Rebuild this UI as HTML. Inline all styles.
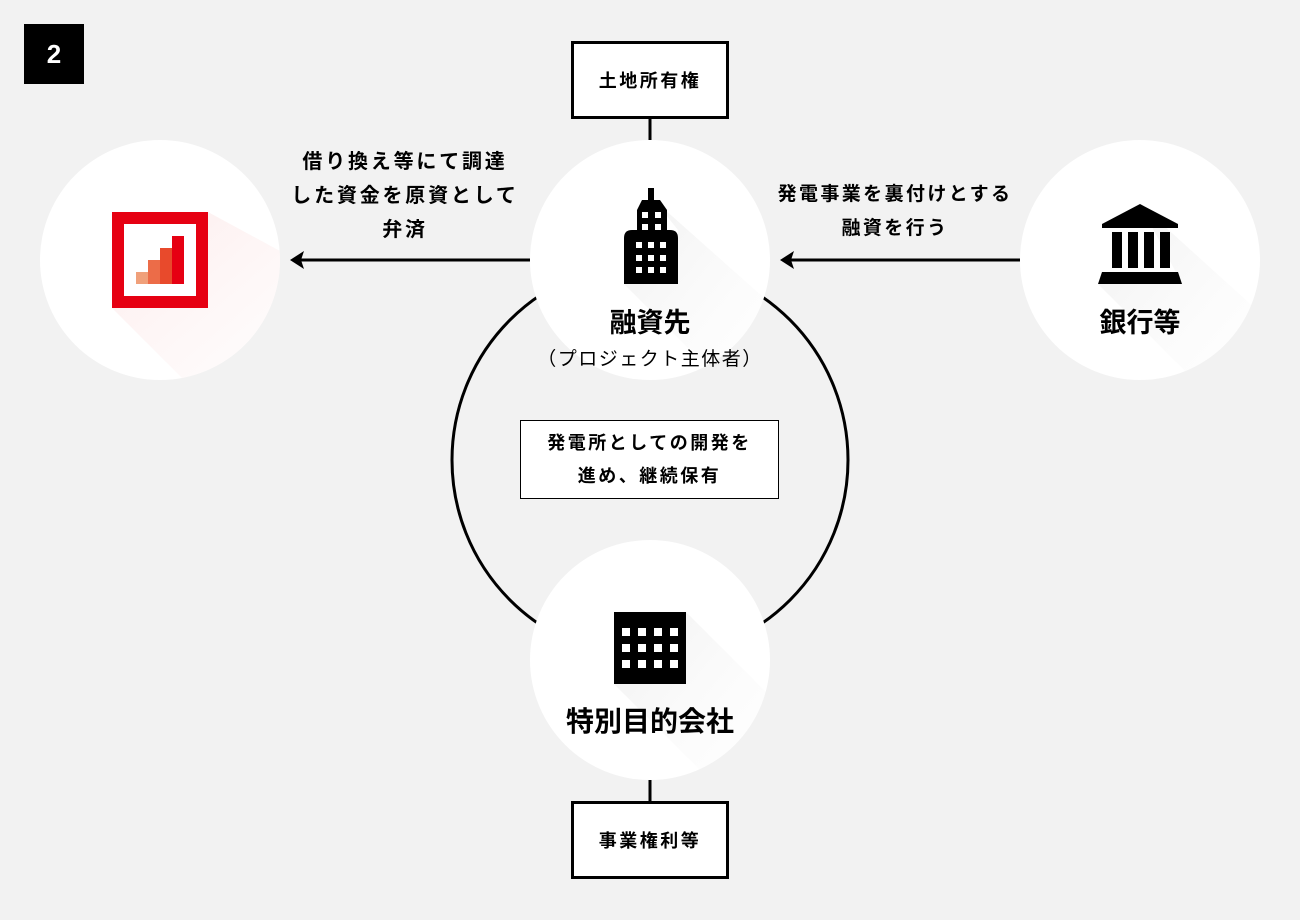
<!DOCTYPE html>
<html><head><meta charset="utf-8"><style>
*{margin:0;padding:0;box-sizing:border-box}
body{width:1300px;height:920px;background:#f2f2f2;position:relative;overflow:hidden;font-family:"Liberation Sans","Noto Sans CJK JP",sans-serif;color:#000}
.t{position:absolute;text-align:center;font-weight:bold;white-space:nowrap}
.box{position:absolute;border:3px solid #000;background:#fff;display:flex;align-items:center;justify-content:center;font-weight:bold;font-size:18px;letter-spacing:2.5px}
</style></head><body>
<svg width="1300" height="920" style="position:absolute;left:0;top:0">
<defs>
<clipPath id="c1"><circle cx="160" cy="260" r="120"/></clipPath>
<clipPath id="c2"><circle cx="650" cy="260" r="120"/></clipPath>
<clipPath id="c3"><circle cx="1140" cy="260" r="120"/></clipPath>
<clipPath id="c4"><circle cx="650" cy="660" r="120"/></clipPath>
<linearGradient id="gs" x1="0" y1="0" x2="1" y2="1"><stop offset="0" stop-color="#e6e6e6" stop-opacity=".6"/><stop offset="1" stop-color="#fff" stop-opacity="0"/></linearGradient>
<linearGradient id="rs" x1="0" y1="0" x2="1" y2="1"><stop offset="0" stop-color="#fbe3e3" stop-opacity=".7"/><stop offset="1" stop-color="#fff" stop-opacity="0"/></linearGradient>
</defs>
<circle cx="650" cy="460" r="198" fill="none" stroke="#000" stroke-width="3"/>
<line x1="650" y1="119" x2="650" y2="140" stroke="#000" stroke-width="3"/>
<line x1="650" y1="780" x2="650" y2="801" stroke="#000" stroke-width="3"/>
<circle cx="160" cy="260" r="120" fill="#fff"/>
<circle cx="650" cy="260" r="120" fill="#fff"/>
<circle cx="1140" cy="260" r="120" fill="#fff"/>
<circle cx="650" cy="660" r="120" fill="#fff"/>
<polygon clip-path="url(#c1)" points="208,212 208,308 112,308 260,456 400,316" fill="url(#rs)"/>
<polygon clip-path="url(#c2)" points="654,200 678,230 678,284 624,284 760,420 800,330" fill="url(#gs)"/>
<polygon clip-path="url(#c3)" points="1140,204 1182,284 1098,284 1240,426 1290,340" fill="url(#gs)"/>
<polygon clip-path="url(#c4)" points="686,612 686,684 614,684 750,820 790,716" fill="url(#gs)"/>
<rect x="118" y="218" width="84" height="84" fill="#fff" stroke="#e60012" stroke-width="12"/>
<rect x="136" y="272" width="12" height="12" fill="#f0a07a"/>
<rect x="148" y="260" width="12" height="24" fill="#ec6c48"/>
<rect x="160" y="248" width="12" height="36" fill="#e84a2c"/>
<rect x="172" y="236" width="12" height="48" fill="#e60012"/>
<rect x="648" y="188" width="6" height="14" fill="#000"/>
<polygon points="642,200 660,200 667,210 667,232 637,232 637,210" fill="#000"/>
<path d="M624,284 V238 Q624,230 632,230 H670 Q678,230 678,238 V284 Z" fill="#000"/>
<g fill="#fff">
<rect x="642" y="212" width="6" height="6"/><rect x="655" y="212" width="6" height="6"/>
<rect x="642" y="224" width="6" height="6"/><rect x="655" y="224" width="6" height="6"/>
<rect x="636" y="242" width="6" height="6"/><rect x="648" y="242" width="6" height="6"/><rect x="660" y="242" width="6" height="6"/>
<rect x="636" y="255" width="6" height="6"/><rect x="648" y="255" width="6" height="6"/><rect x="660" y="255" width="6" height="6"/>
<rect x="636" y="267" width="6" height="6"/><rect x="648" y="267" width="6" height="6"/><rect x="660" y="267" width="6" height="6"/>
</g>
<polygon points="1140,204 1178,224 1178,228 1102,228 1102,224" fill="#000"/>
<rect x="1112" y="232" width="10" height="36" fill="#000"/>
<rect x="1128" y="232" width="10" height="36" fill="#000"/>
<rect x="1144" y="232" width="10" height="36" fill="#000"/>
<rect x="1160" y="232" width="10" height="36" fill="#000"/>
<polygon points="1102,272 1178,272 1182,284 1098,284" fill="#000"/>
<rect x="614" y="612" width="72" height="72" fill="#000"/>
<g fill="#fff">
<rect x="622" y="628" width="8" height="8"/><rect x="638" y="628" width="8" height="8"/><rect x="654" y="628" width="8" height="8"/><rect x="670" y="628" width="8" height="8"/>
<rect x="622" y="644" width="8" height="8"/><rect x="638" y="644" width="8" height="8"/><rect x="654" y="644" width="8" height="8"/><rect x="670" y="644" width="8" height="8"/>
<rect x="622" y="660" width="8" height="8"/><rect x="638" y="660" width="8" height="8"/><rect x="654" y="660" width="8" height="8"/><rect x="670" y="660" width="8" height="8"/>
</g>
<line x1="300" y1="260" x2="530" y2="260" stroke="#000" stroke-width="3"/>
<polygon points="290,260 304,251 301,260 304,269" fill="#000"/>
<line x1="790" y1="260" x2="1020" y2="260" stroke="#000" stroke-width="3"/>
<polygon points="780,260 794,251 791,260 794,269" fill="#000"/>
<rect x="24" y="24" width="60" height="60" fill="#000"/>
</svg>
<div class="t" style="left:24px;top:36px;width:60px;font-size:26px;color:#fff;line-height:36px">2</div>
<div class="box" style="left:571px;top:41px;width:158px;height:78px">土地所有権</div>
<div class="box" style="left:571px;top:801px;width:158px;height:78px">事業権利等</div>
<div class="box" style="left:520px;top:420px;width:259px;height:79px;border-width:1.5px;font-size:18px;letter-spacing:2.5px;line-height:33px;text-align:center">発電所としての開発を<br>進め、継続保有</div>
<div class="t" style="left:250px;top:145px;width:310px;font-size:20px;letter-spacing:2.8px;line-height:34px">借り換え等にて調達<br>した資金を原資として<br>弁済</div>
<div class="t" style="left:740px;top:178px;width:310px;font-size:19px;letter-spacing:2.4px;line-height:34px">発電事業を裏付けとする<br>融資を行う</div>
<div class="t" style="left:530px;top:305px;width:240px;font-size:27px;line-height:36px">融資先</div>
<div class="t" style="left:520px;top:346px;width:260px;font-size:19px;font-weight:normal;letter-spacing:1.5px;line-height:28px">（プロジェクト主体者）</div>
<div class="t" style="left:1020px;top:305px;width:240px;font-size:27px;line-height:36px">銀行等</div>
<div class="t" style="left:500px;top:703px;width:300px;font-size:28px;line-height:38px">特別目的会社</div>
</body></html>
